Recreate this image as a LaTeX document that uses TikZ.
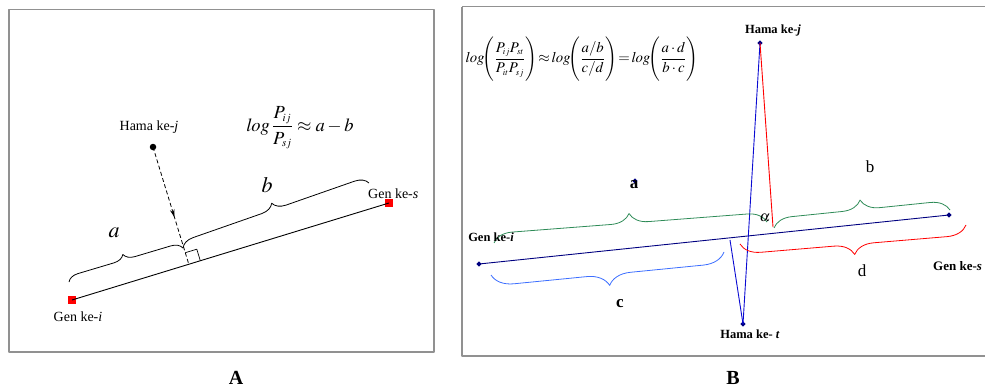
\documentclass[tikz,border=0pt]{standalone}
\usepackage{amsmath}
\usepackage{mathptmx}
\usepackage[no-math]{fontspec}
\setmainfont{Liberation Serif}
\usetikzlibrary{arrows.meta,decorations.pathreplacing,decorations.markings,shapes.geometric,calc}
\definecolor{framegray}{RGB}{145,145,145}
\definecolor{navyline}{RGB}{0,0,128}
\definecolor{blueline}{RGB}{10,10,210}
\definecolor{lightblue}{RGB}{60,110,255}
\definecolor{bracegreen}{RGB}{46,139,87}
\definecolor{redline}{RGB}{255,0,0}
\newcommand{\tsub}[1]{_{\scriptscriptstyle #1}}
\tikzset{
  frame/.style={draw=framegray,line width=1.6pt},
  redsq/.style={fill=red,minimum size=8pt,inner sep=0pt},
  blackdot/.style={circle,fill=black,minimum size=6.5pt,inner sep=0pt},
  navymark/.style={diamond,fill=navyline,minimum size=5.5pt,inner sep=0pt},
  lblA/.style={font=\fontsize{14}{16}\selectfont,inner sep=0pt},
  lblB/.style={font=\fontsize{12.5}{14}\selectfont\bfseries,inner sep=0pt},
  bigletter/.style={font=\fontsize{17}{19}\selectfont,inner sep=0pt},
  panellbl/.style={font=\fontsize{20}{22}\selectfont\bfseries,inner sep=0pt},
  bracedeco/.style={decorate,decoration={brace,amplitude=#1}},
}
\begin{document}
\begin{tikzpicture}[x=1pt,y=-1pt,line join=round]
\useasboundingbox (0,0) rectangle (985,388);
% ---------------- Panel A ----------------
\draw[frame] (9,9.5) rectangle (434,352);
\node[redsq] (gi) at (72,300) {};
\node[redsq] (gs) at (389,203) {};
\node[blackdot] (hj) at (153,147) {};
\coordinate (F) at (188.8,264.2);
\draw[line width=0.9pt] (gi.center) -- (gs.center);
\draw[line width=0.8pt,dashed,dash pattern=on 4pt off 2.5pt,
  postaction={decorate,decoration={markings,mark=at position 0.6 with {\arrow{Stealth[length=8pt,width=4.5pt]}}}}]
  (hj.center) -- (F);
\draw[line width=0.7pt] ($(F)+(11.5,-3.5)$) -- ++(-3.5,-11.5) -- ++(-11.5,3.5);
\draw[line width=0.8pt,bracedeco=11pt] (69,282) -- (183,248);
\draw[line width=0.8pt,bracedeco=13pt] (183,248) -- (369,183);
\node[lblA] (lhj) at (149,127) {Hama ke-\textit{j}};
\node[lblA] (lgi) at (78,317) {Gen ke-\textit{i}};
\node[lblA,anchor=west] (lgs) at (368,194) {Gen ke-\textit{s}};
\node[inner sep=0pt,font=\fontsize{22}{24}\selectfont] (la) at (114,233) {$a$};
\node[inner sep=0pt,font=\fontsize{22}{24}\selectfont] (lb) at (267,185) {$b$};
\node[inner sep=0pt,font=\fontsize{18.5}{20}\selectfont] (fA) at (300,128)
  {$\mathit{log}\,\dfrac{P\tsub{ij}}{P\tsub{sj}}\approx a-b$};
\node[panellbl] (pA) at (236,378) {A};
% ---------------- Panel B ----------------
\draw[frame] (462,6.5) -- (462,356) -- (990,356);
\draw[frame] (462,6.5) -- (990,6.5);
\node[navymark] (bgi) at (479,264) {};
\node[navymark] (bgs) at (949,215) {};
\node[navymark] (bhj) at (760,43) {};
\node[navymark] (bht) at (743,324) {};
\node[navymark] (bma) at (635,181) {};
\coordinate (rend) at (773,227);
\coordinate (bfoot) at (730,240);
\draw[navyline,line width=0.9pt] (bgi.center) -- (bgs.center);
\draw[blueline,line width=0.9pt] (bhj.center) -- (bht.center);
\draw[redline,line width=0.9pt] (bhj.center) -- (rend);
\draw[blueline,line width=0.9pt] (bfoot) -- (bht.center);
\draw[bracegreen,line width=0.8pt,bracedeco=19pt] (494,243) -- (767,222);
\draw[bracegreen,line width=0.8pt,bracedeco=19pt] (774,228) -- (950,210);
\draw[redline,line width=0.8pt,bracedeco=20pt] (966,225) -- (740,244);
\draw[lightblue,line width=0.8pt,bracedeco=22pt] (724,252) -- (491,275);
\node[inner sep=0pt,font=\fontsize{14.8}{18}\selectfont] (fB) at (582,59)
  {$\mathit{log}\!\Biggl(\dfrac{P\tsub{ij}P\tsub{st}}{P\tsub{it}P\tsub{sj}}\Biggr)\!\approx\! \mathit{log}\!\Biggl(\dfrac{a/b}{c/d}\Biggr)\!=\!\mathit{log}\!\Biggl(\dfrac{a\cdot d}{b\cdot c}\Biggr)$};
\node[lblB] (lbhj) at (773,30) {Hama ke-\textit{j}};
\node[lblB] (lbht) at (750,334) {Hama ke- \textit{t}};
\node[lblB] (lbgi) at (491,237) {Gen ke-\textit{i}};
\node[lblB,anchor=west,font=\fontsize{13}{14}\selectfont\bfseries] (lbgs) at (933,266) {Gen ke-\textit{s}};
\node[bigletter,font=\fontsize{17}{19}\selectfont\bfseries] (lba) at (634,185) {a};
\node[bigletter] (lbb) at (870,167) {b};
\node[bigletter,font=\fontsize{17}{19}\selectfont\bfseries] (lbc) at (620,304) {c};
\node[bigletter] (lbd) at (862,271) {d};
\node[inner sep=0pt,font=\fontsize{15}{17}\selectfont] (lal) at (765,218) {$\alpha$};
\node[panellbl] (pB) at (733,378) {B};
\end{tikzpicture}
\end{document}
